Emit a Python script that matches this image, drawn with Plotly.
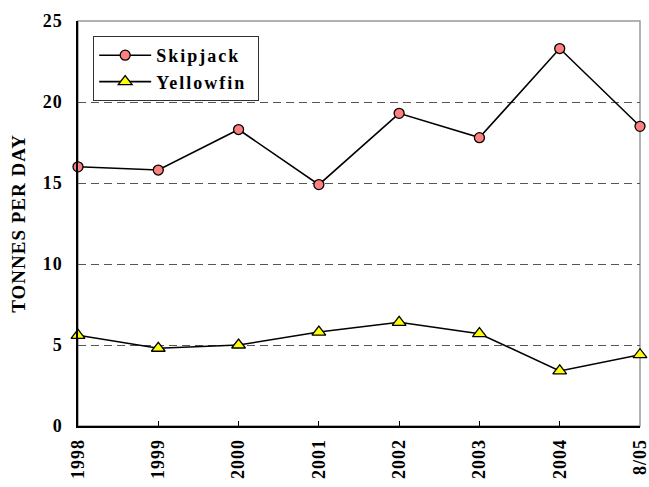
import plotly.graph_objects as go

# Catch rates by year
years = ["1998", "1999", "2000", "2001", "2002", "2003", "2004", "8/05"]
skipjack = [16.0, 15.8, 18.3, 14.9, 19.3, 17.8, 23.3, 18.5]
yellowfin = [5.6, 4.8, 5.0, 5.8, 6.4, 5.7, 3.4, 4.4]
yticks = [0, 5, 10, 15, 20, 25]

FONT = "Liberation Serif, Times New Roman, serif"

fig = go.Figure()
fig.add_trace(go.Scatter(
    x=years, y=skipjack, name="<b>Skipjack</b>", mode="lines+markers",
    line=dict(color="black", width=1.6),
    marker=dict(symbol="circle", size=10, color="#FF8080",
                line=dict(color="black", width=1.3)),
    cliponaxis=False,
))
fig.add_trace(go.Scatter(
    x=years, y=yellowfin, name="<b>Yellowfin</b>", mode="lines+markers",
    line=dict(color="black", width=1.6),
    marker=dict(symbol="triangle-up", size=12, color="#FFFF00",
                line=dict(color="black", width=1.3)),
    cliponaxis=False,
))

fig.update_layout(
    width=649, height=487,
    margin=dict(l=78, r=9, t=21, b=61, autoexpand=False),
    paper_bgcolor="white", plot_bgcolor="white",
    font=dict(family=FONT, color="black", size=17),
    showlegend=True,
    legend=dict(
        x=0.027, y=0.963, xanchor="left", yanchor="top",
        bgcolor="white", bordercolor="#333", borderwidth=1,
        font=dict(family=FONT, size=18, color="black"),
        tracegroupgap=0,
    ),
    xaxis=dict(
        type="category", range=[0, 7], automargin=False,
        showline=True, linecolor="black", linewidth=1.5,
        ticks="inside", ticklen=5, tickcolor="black",
        tickangle=-90, showgrid=False, zeroline=False,
        tickvals=years, ticktext=[f"<b>{y}</b>" for y in years],
        tickfont=dict(family=FONT, size=18, color="black"),
        ticklabelstandoff=4,
    ),
    yaxis=dict(
        range=[0, 25], automargin=False,
        showline=True, linecolor="black", linewidth=1.5,
        ticks="", showgrid=True, gridcolor="#555", griddash="8px,5px",
        gridwidth=1, zeroline=False,
        tickvals=yticks, ticktext=[f"<b>{v}</b>" for v in yticks],
        tickfont=dict(family=FONT, size=18, color="black"),
        ticklabelstandoff=10,
        title=dict(text="<b>TONNES PER DAY</b>", standoff=14,
                   font=dict(family=FONT, size=19, color="black")),
    ),
    shapes=[dict(type="rect", xref="paper", yref="paper", x0=0, y0=0,
                 x1=1, y1=1, line=dict(color="#999", width=1.5),
                 layer="below")],
)

# Widen the lettering of legend, title and tick labels; lengthen the legend
# sample lines and grow the legend box to fit
spacing_js = """
document.querySelectorAll('.legendtext').forEach(function(t){
  t.setAttribute('letter-spacing','2px');
  t.setAttribute('x', 62);
});
document.querySelectorAll('.legendlines path').forEach(function(p){p.setAttribute('d','M5,0h52');});
document.querySelectorAll('.legendpoints path').forEach(function(p){p.setAttribute('transform','translate(31,0)');});
document.querySelectorAll('.xtick text, .ytick text, .ytitle').forEach(function(t){t.setAttribute('letter-spacing','1px');});
var lg = document.querySelector('g.legend');
if (lg) {
  var W = 165;
  var bg = lg.querySelector('rect.bg');
  if (bg) bg.setAttribute('width', W);
  document.querySelectorAll('clipPath').forEach(function(c){
    if (c.id.indexOf('legend') >= 0) c.querySelectorAll('rect').forEach(function(r){r.setAttribute('width', W);});
  });
}
"""

fig.write_html("out.html", post_script=spacing_js)
